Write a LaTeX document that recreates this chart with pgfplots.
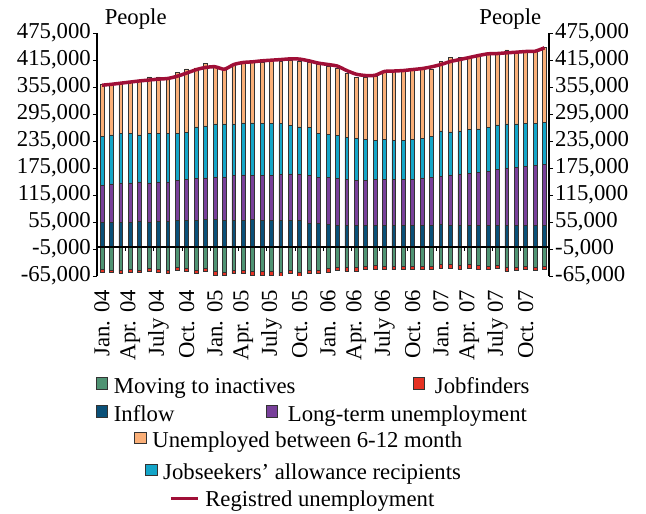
\documentclass[border=0pt]{standalone}
\usepackage{fontspec}
\setmainfont{Liberation Serif}
\usepackage{pgfplots}
\usepackage{pgfplotstable}
\pgfplotsset{compat=1.18}

\definecolor{cgreen}{HTML}{4F9373}
\definecolor{cred}{HTML}{E63223}
\definecolor{cdblue}{HTML}{0A5078}
\definecolor{cpurple}{HTML}{78409A}
\definecolor{ccyan}{HTML}{14A5C8}
\definecolor{corange}{HTML}{FAAF78}
\definecolor{cline}{HTML}{A00F37}
\definecolor{bardraw}{HTML}{333333}

\newcommand{\lfont}{\fontsize{22.8}{27}\selectfont}

% month index, stacked components and registered unemployment (people)
\pgfplotstableread{
x inflow long jsa mid moving jobf reg
0 54100 82300 109000 115000 -49700 -6600 359000
1 54900 84600 109000 114200 -51900 -5900 361000
2 54900 86800 109700 112800 -51900 -6700 363500
3 54900 86800 109700 115100 -49700 -6600 366000
4 56300 87700 104500 119300 -51900 -5900 368500
5 54900 86800 109700 126100 -48900 -6700 370500
6 56300 87700 107400 126100 -49700 -7400 372500
7 56300 87700 107400 125600 -51900 -6700 374000
8 57800 89100 104500 135100 -45200 -8200 379000
9 57800 92000 103900 141600 -47500 -7400 386000
10 57800 93500 115000 131200 -51900 -6700 393500
11 60000 92800 115700 138000 -47500 -7400 398500
12 60000 95100 117900 127000 -55600 -7400 400000
13 57800 97300 117900 122000 -57100 -6600 394500
14 59300 98700 115000 133000 -53400 -6700 405000
15 59300 100200 115700 135800 -53400 -5900 409500
16 60100 98600 116500 133500 -55600 -7400 411000
17 58600 100100 115000 135000 -55600 -7400 413200
18 57800 100900 115000 137300 -55600 -7400 414600
19 57800 102400 113500 137300 -57800 -7000 416000
20 57800 103900 107500 145400 -53400 -6700 417500
21 57800 102400 106100 146000 -57800 -7000 417000
22 52600 105400 106800 145300 -51900 -8200 413000
23 52600 101700 97100 153600 -52700 -7400 408000
24 50400 103100 96400 151300 -48900 -7400 405000
25 48200 103100 95700 150500 -45200 -6700 401500
26 48200 101600 92700 143500 -46700 -7400 391500
27 48200 99400 93400 134500 -46700 -7400 383500
28 48200 98700 91200 137900 -44500 -6700 380500
29 46700 102400 86800 143100 -42300 -7400 381000
30 46700 102400 89000 151900 -43800 -7400 389500
31 46700 103100 86800 153400 -43800 -7400 390500
32 46700 102400 86800 154200 -43000 -8200 391600
33 46700 102400 89000 153500 -43800 -7400 393800
34 48200 104600 87500 153500 -43800 -7400 396000
35 48200 105300 91300 150500 -43800 -7400 399800
36 48900 107600 100900 154900 -39300 -8900 405000
37 48200 111300 95700 165800 -39300 -8900 411600
38 48200 112000 97200 163600 -41500 -8200 416000
39 48200 114200 97900 163100 -39300 -8200 420500
40 48200 117200 96500 166000 -41500 -8200 425000
41 48200 118700 97900 164600 -43800 -7400 428700
42 48200 123100 99500 159700 -41500 -7400 429400
43 48200 126800 98000 164500 -45200 -8900 431000
44 48200 128300 96500 159800 -45200 -7500 432300
45 48200 129800 96400 158600 -43000 -8200 433900
46 48200 132000 94200 159100 -45200 -6700 434500
47 48200 135000 93400 165900 -43000 -8200 442100
}\unemp

\pgfplotsset{
  base/.style={scale only axis, width=452bp, height=243bp,
    xmin=-0.531, xmax=47.478, ymin=-65000, ymax=475000,
    scaled y ticks=false},
  yt/.style={
    ytick={-65000,-5000,55000,115000,175000,235000,295000,355000,415000,475000},
    yticklabels={{-65,000},{-5,000},{55,000},{115,000},{175,000},{235,000},{295,000},{355,000},{415,000},{475,000}},
    y tick label style={font=\lfont, inner xsep=2bp},
    ytick style={black, line width=1bp},
    tick align=outside, major tick length=4bp,
    y axis line style={black, line width=2bp}},
  legitem/.style n args={3}{
    hide axis, scale only axis, width=452bp, height=243bp,
    xmin=0, xmax=1, ymin=0, ymax=1,
    legend style={at={(#1,#2)}, anchor=west, draw=none, fill=none,
      inner sep=0pt, outer sep=0pt, font=\lfont,
      nodes={inner sep=0pt, text height=15bp, text depth=5bp},
      /tikz/every odd column/.append style={column sep=#3}},
    legend image code/.code={\draw[##1] (0bp,-1bp) rectangle (11.5bp,10.5bp);}},
}

\begin{document}
\lfont
\begin{tikzpicture}
\path[use as bounding box] (-97bp,-238bp) rectangle (549bp,276bp);

% positive components and left axis
\begin{axis}[base, yt,
  ybar stacked, bar width=3.8bp,
  axis y line*=left, axis x line*=bottom,
  x axis line style={draw=none},
  xtick={0,3,...,45},
  xticklabels={Jan. 04,Apr. 04,July 04,Oct. 04,Jan. 05,Apr. 05,July 05,Oct. 05,
    Jan. 06,Apr. 06,July 06,Oct. 06,Jan. 07,Apr. 07,July 07,Oct. 07},
  xtick style={draw=none},
  x tick label style={rotate=90, anchor=east, inner ysep=0pt, inner xsep=10bp, font=\lfont},
  ylabel={People},
  every axis y label/.style={at={(rel axis cs:0,1)}, anchor=base west, yshift=9bp, font=\lfont},
  every axis plot/.append style={draw=bardraw, line width=0.7bp},
]
\addplot[fill=cdblue] table[x=x, y=inflow] {\unemp};
\addplot[fill=cpurple] table[x=x, y=long] {\unemp};
\addplot[fill=ccyan] table[x=x, y=jsa] {\unemp};
\addplot[fill=corange] table[x=x, y=mid] {\unemp};
\end{axis}

% outflows, zero line and right axis
\begin{axis}[base, yt, axis on top,
  ybar stacked, bar width=3.8bp,
  axis y line*=right, axis x line*=middle,
  xtick={2.5,5.5,...,44.5}, xticklabels={},
  xtick style={black, line width=1bp},
  x axis line style={black, line width=1.8bp},
  ylabel={People},
  every axis y label/.style={at={(rel axis cs:1,1)}, anchor=base east, yshift=9bp, font=\lfont},
  every axis plot/.append style={draw=bardraw, line width=0.7bp},
]
\addplot[fill=cgreen] table[x=x, y=moving] {\unemp};
\addplot[fill=cred] table[x=x, y=jobf] {\unemp};
\end{axis}

% registered unemployment
\begin{axis}[base, hide axis]
\addplot[smooth, tension=0.4, draw=cline, line width=3.5bp, no marks]
  table[x=x, y=reg] {\unemp};
\end{axis}

\begin{axis}[legitem={-0.0029}{-0.4597}{6bp}]
\addlegendimage{fill=cgreen, draw=bardraw, line width=0.7bp}
\addlegendentry{Moving to inactives}
\end{axis}
\begin{axis}[legitem={0.6985}{-0.4597}{10bp}]
\addlegendimage{fill=cred, draw=bardraw, line width=0.7bp}
\addlegendentry{Jobfinders}
\end{axis}
\begin{axis}[legitem={-0.0029}{-0.5749}{6bp}]
\addlegendimage{fill=cdblue, draw=bardraw, line width=0.7bp}
\addlegendentry{Inflow}
\end{axis}
\begin{axis}[legitem={0.3732}{-0.5749}{10bp}]
\addlegendimage{fill=cpurple, draw=bardraw, line width=0.7bp}
\addlegendentry{Long-term unemployment}
\end{axis}
\begin{axis}[legitem={0.0825}{-0.6844}{6bp}]
\addlegendimage{fill=corange, draw=bardraw, line width=0.7bp}
\addlegendentry{Unemployed between 6-12 month}
\end{axis}
\begin{axis}[legitem={0.1062}{-0.8148}{6bp}]
\addlegendimage{fill=ccyan, draw=bardraw, line width=0.7bp}
\addlegendentry{Jobseekers’ allowance recipients}
\end{axis}
\begin{axis}[legitem={0.1600}{-0.9288}{6bp},
  legend image code/.code={\draw[#1] (0bp,3.4bp) -- (27bp,3.4bp);}]
\addlegendimage{draw=cline, line width=3bp}
\addlegendentry{Registred unemployment}
\end{axis}
\end{tikzpicture}
\end{document}
